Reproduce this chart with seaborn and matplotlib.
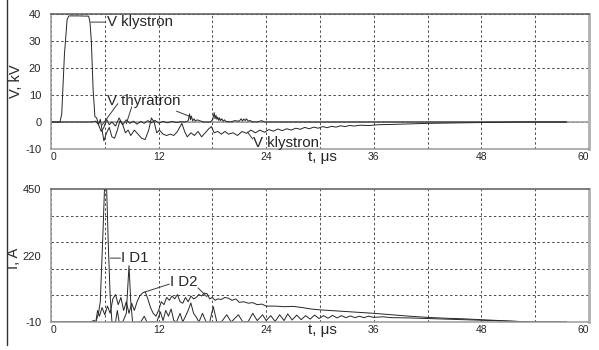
import matplotlib
matplotlib.use("Agg")
import matplotlib.pyplot as plt
import seaborn as sns
import pandas as pd
from matplotlib.lines import Line2D

# ---------------- data ----------------
t_klys = [0, 1.0, 1.2, 1.5, 1.8, 2.0, 3.0, 4.2, 4.35, 4.5, 4.7, 4.9, 5.1, 5.3, 5.5, 5.7,
          5.9, 6.2, 6.5, 6.8, 7.1, 7.4, 7.7, 8.0, 8.3, 8.6, 8.9, 9.3, 9.7, 10.1, 10.5,
          10.9, 11.2, 11.5, 11.8, 12.1, 12.5, 12.9, 13.3, 13.7, 14.1, 14.6, 14.9, 15.2,
          15.6, 16.0, 16.4, 16.8, 17.2, 17.6, 17.9, 18.2, 18.6, 19.0, 19.4, 19.8, 20.3,
          20.8, 21.3, 21.8, 22.3, 22.8, 23.3, 23.8, 24.3, 24.8, 25.3, 25.8, 26.3, 26.8,
          27.3, 27.8, 28.3, 28.8, 29.3, 29.8, 30.3, 30.8, 31.3, 31.8, 32.3, 32.8, 33.3,
          33.8, 34.5, 35.5, 36.5, 38, 40, 42, 44, 46, 48, 50, 52, 57.5]
v_klys = [0, 0, 3, 25, 38, 39.3, 39.3, 39.2, 37, 30, 12, 2, 1.5, -1, 1, -3,
          -7, -4, -2, -5.5, -6, -3, 0.5, -1, -4, -3, -5, -3, -4.5, -6, -6.5,
          -3, 1.5, 0, -4, -3, -4.5, -5, -4.5, -5, -3.5, -0.5, -3.5, -5.5,
          -4, -5, -3.5, -5.5, -4, -2.5, -1.7, -4, -3.5, -4.5, -3.5, -4.5, -4,
          -5, -3.5, -4.2, -3, -4, -3, -3.8, -2.8, -3.4, -2.6, -3.2, -2.5, -3,
          -2.3, -2.7, -2.0, -2.5, -1.9, -2.3, -1.7, -2.1, -1.6, -1.9, -1.4, -1.7, -1.3,
          -1.5, -1.2, -1.3, -1.0, -0.9, -0.7, -0.5, -0.4, -0.3, -0.2, -0.1, 0, 0]

t_thyr = [0, 4.5, 5.0, 5.3, 5.6, 5.9, 6.2, 6.5, 6.8, 7.2, 7.6, 8.0, 8.4, 8.8, 9.2, 9.6,
          10.0, 10.4, 10.8, 11.2, 11.6, 12.0, 12.5, 13.0, 13.5, 14.0, 14.5, 15.0, 15.3,
          15.45, 15.55, 15.65, 15.8, 15.95, 16.1, 16.3, 17.0, 17.8, 18.05, 18.2, 18.3,
          18.4, 18.5, 18.6, 18.7, 18.8, 18.9, 19.05, 19.2, 19.35, 19.5, 20.0, 20.5, 21.0,
          21.2, 21.35, 21.5, 21.65, 21.8, 22.0, 22.2, 22.4, 23.0, 23.5, 23.8, 25, 57.5]
v_thyr = [0, 0, 0.3, -1, -3.5, -2, 1, -1, 0, -1.5, 1.5, -1, 0.8, -0.5, 0.3, -0.8,
          0.2, -0.5, 0.5, -0.3, 0.6, -0.4, 0.2, -0.3, 0.2, -0.2, 0.1, 0, 0.5,
          3, 0.8, 2.2, 0.4, 1.2, 0.3, 0.8, 0, 0, 1.0, 3.5, 1.2, 2.5,
          1.0, 1.8, 0.6, 1.5, 0.5, 1.2, 0.3, 0.8, 0.2, 0, 0.5, 0.3,
          1.2, 0.4, 1.1, 0.5, 1.2, 0.3, 0.6, 0.1, 0, 0.5, 0, 0, 0]

t_d1 = [0, 4.5, 4.7, 5.0, 5.3, 5.5, 5.8, 6.0, 6.2, 6.4, 6.6, 6.8, 7.2, 7.4, 7.6, 8.0,
        8.4, 8.7, 8.9, 9.1, 10.0, 10.4, 10.7, 11.5, 11.8, 12.2, 12.5, 12.8, 13.1, 13.4,
        13.7, 14.0, 14.4, 14.7, 15.3, 15.6, 15.9, 16.2, 16.5, 16.9, 17.3, 17.7, 18.1,
        18.5, 19.0, 19.6, 20.1, 20.9, 21.4, 22.0, 22.5, 23.0, 23.6, 24.0, 24.5, 25.0,
        25.5, 26.0, 26.4, 26.9, 27.4, 27.9, 28.4, 28.9, 29.4, 29.9, 30.4, 30.9, 31.4,
        31.9, 32.4, 32.9, 33.4, 33.9, 34.4, 34.9, 35.4, 36, 37, 38, 40, 42, 44, 46, 48,
        50, 52, 54, 57.5]
i_d1 = [-10, -10, -6, -10, 20, 60, 300, 480, 460, 250, 80, -10, -10, 30, -10, -10,
        20, 185, 60, -10, -10, 10, -10, -10, -10, 25, -5, 30, 10, 35,
        -5, -10, 20, -10, 30, 56, 20, 7, -10, 20, -10, -10, 43,
        -10, -10, 15, -10, 15, -10, -8, 20, -5, 15, -5, 12, -8,
        15, -5, 18, -3, 14, -2, 12, 0, 14, 2, 12, 3, 13,
        4, 12, 5, 11, 5, 10, 5, 10, 6, 8, 5, 4, 2, 0, -2, -4,
        -6, -8, -10, -10]

t_d2 = [0, 4.5, 4.8, 5.0, 5.2, 5.4, 5.7, 6.0, 6.3, 6.6, 6.9, 7.2, 7.5, 7.8, 8.1, 8.4,
        8.7, 9.0, 9.3, 9.6, 9.9, 10.2, 10.5, 10.8, 11.1, 11.4, 11.7, 12.0, 12.3, 12.6,
        12.9, 13.2, 13.5, 13.8, 14.1, 14.4, 14.7, 15.0, 15.3, 15.6, 15.9, 16.2, 16.5,
        16.8, 17.1, 17.4, 17.7, 18.0, 18.3, 18.6, 19.0, 19.4, 19.8, 20.2, 20.6, 21.0,
        21.5, 22, 22.5, 23, 23.5, 24, 25, 26, 27, 28, 29, 30, 31, 32, 33, 34, 35, 36,
        38, 40, 42, 44, 46, 48, 50, 52, 54, 57.5]
i_d2 = [-10, -10, -5, -10, 30, 10, 40, 15, 45, 20, 70, 85, 50, 75, 30, 60,
        20, 55, 30, 60, 80, 90, 95, 70, 40, 20, 10, 30, 60, 50,
        75, 65, 80, 70, 85, 60, 55, 75, 60, 80, 70, 75, 85,
        80, 90, 88, 70, 75, 65, 70, 68, 75, 72, 65, 70, 58,
        60, 55, 57, 50, 52, 45, 45, 43, 44, 40, 35, 32, 30, 28, 26, 24, 22, 20,
        15, 10, 6, 3, 1, -2, -5, -8, -10, -10]

x_ticks = [0, 12, 24, 36, 48, 60]
x_grid = [6, 18, 30, 42, 54]
v_ticks = [-10, 0, 10, 20, 30, 40]
i_ticks = [-10, 220, 450]
i_grid = [82, 174, 266, 358]

# ---------------- style ----------------
sns.set_style("white")
plt.rcParams["font.family"] = ["Liberation Sans", "DejaVu Sans"]
plt.rcParams["axes.unicode_minus"] = False

LINE = "#262626"
GRID = "#4a4a4a"

fig = plt.figure(figsize=(5.99, 3.5), dpi=100)
ax1 = fig.add_axes([0.0851, 0.5743, 0.8982, 0.3857])
ax2 = fig.add_axes([0.0851, 0.08, 0.8982, 0.38])

for ax in (ax1, ax2):
    ax.set_xlim(0, 60)
    ax.set_xticks(x_ticks)
    ax.set_xticks(x_grid, minor=True)
    ax.grid(True, which="both", axis="x", color=GRID, lw=0.7, ls=(0, (2.5, 2.5)))
    ax.tick_params(which="both", length=0)
    ax.tick_params(axis="x", labelsize=7.5, pad=2)
    ax.tick_params(axis="y", labelsize=8, pad=7)
    ax.spines["left"].set_color("#9a9a9a")
    ax.spines["bottom"].set_color("#9a9a9a")
    ax.spines["top"].set_color("#5a5a5a")
    ax.spines["right"].set_color("#b0b0b0")
    ax.spines["right"].set_linewidth(2)
    for s in ("left", "bottom", "top"):
        ax.spines[s].set_linewidth(1.1)
    lbls = ax.get_xticklabels()
    lbls[0].set_ha("left")
    lbls[-1].set_ha("right")

# top panel
ax1.set_ylim(-10, 40)
ax1.set_yticks(v_ticks)
ax1.grid(True, which="major", axis="y", color=GRID, lw=0.7, ls=(0, (2.5, 2.5)))
ax1.axhline(0, color="#a0a0a0", lw=1.2, zorder=1)
df_k = pd.DataFrame({"t": t_klys, "v": v_klys})
df_t = pd.DataFrame({"t": t_thyr, "v": v_thyr})
sns.lineplot(data=df_k, x="t", y="v", ax=ax1, color=LINE, lw=0.7, estimator=None)
sns.lineplot(data=df_t, x="t", y="v", ax=ax1, color=LINE, lw=0.7, estimator=None)
ax1.set_xlabel("t, μs", fontsize=11)
ax1.xaxis.set_label_coords(0.505, -0.005)
ax1.set_ylabel("V, kV", fontsize=10.5)
ax1.yaxis.set_label_coords(-0.052, 0.5)

# bottom panel
ax2.set_ylim(-10, 450)
ax2.set_yticks(i_ticks)
ax2.set_yticks(i_grid, minor=True)
ax2.grid(True, which="minor", axis="y", color=GRID, lw=0.7, ls=(0, (2.5, 2.5)))
df_1 = pd.DataFrame({"t": t_d1, "i": i_d1})
df_2 = pd.DataFrame({"t": t_d2, "i": i_d2})
sns.lineplot(data=df_2, x="t", y="i", ax=ax2, color=LINE, lw=0.7, estimator=None)
sns.lineplot(data=df_1, x="t", y="i", ax=ax2, color=LINE, lw=0.7, estimator=None)
ax2.set_xlabel("t, μs", fontsize=11)
ax2.xaxis.set_label_coords(0.505, -0.01)
ax2.set_ylabel("I, A", fontsize=10.5)
ax2.yaxis.set_label_coords(-0.055, 0.48)

# annotations (text labels + leader lines)
FS = 10.8
lead = dict(arrowstyle="-", color="#3a3a3a", lw=0.7, shrinkA=0, shrinkB=0)


def leader(ax, p_from, p_to):
    ax.annotate("", xy=p_to, xytext=p_from, arrowprops=lead)


ax1.text(6.2, 37, "V klystron", fontsize=FS, va="center", ha="left")
leader(ax1, (6.1, 37), (4.45, 37))
ax1.text(6.2, 5.2, "V thyratron", fontsize=FS, va="bottom", ha="left")
leader(ax1, (7.45, 6.8), (5.7, -1.1))
leader(ax1, (9.0, 5.6), (8.4, -0.7))
leader(ax1, (14.0, 4.0), (15.7, 1.8))
ax1.text(22.5, -7.8, "V klystron", fontsize=FS, va="center", ha="left")
leader(ax1, (22.5, -6.3), (21.9, -3.7))
ax2.text(7.8, 211, "I D1", fontsize=FS, va="center", ha="left")
leader(ax2, (7.75, 211), (6.6, 211))
ax2.text(13.3, 128, "I D2", fontsize=FS, va="center", ha="left")
leader(ax2, (13.2, 121), (10.5, 94))
leader(ax2, (16.4, 108), (17.4, 77))

# left border line of the figure
fig.add_artist(Line2D([7 / 599, 7 / 599], [0.014, 1.0], transform=fig.transFigure,
                      color="#333333", lw=1.0))

fig.savefig("out.png", dpi=100)
